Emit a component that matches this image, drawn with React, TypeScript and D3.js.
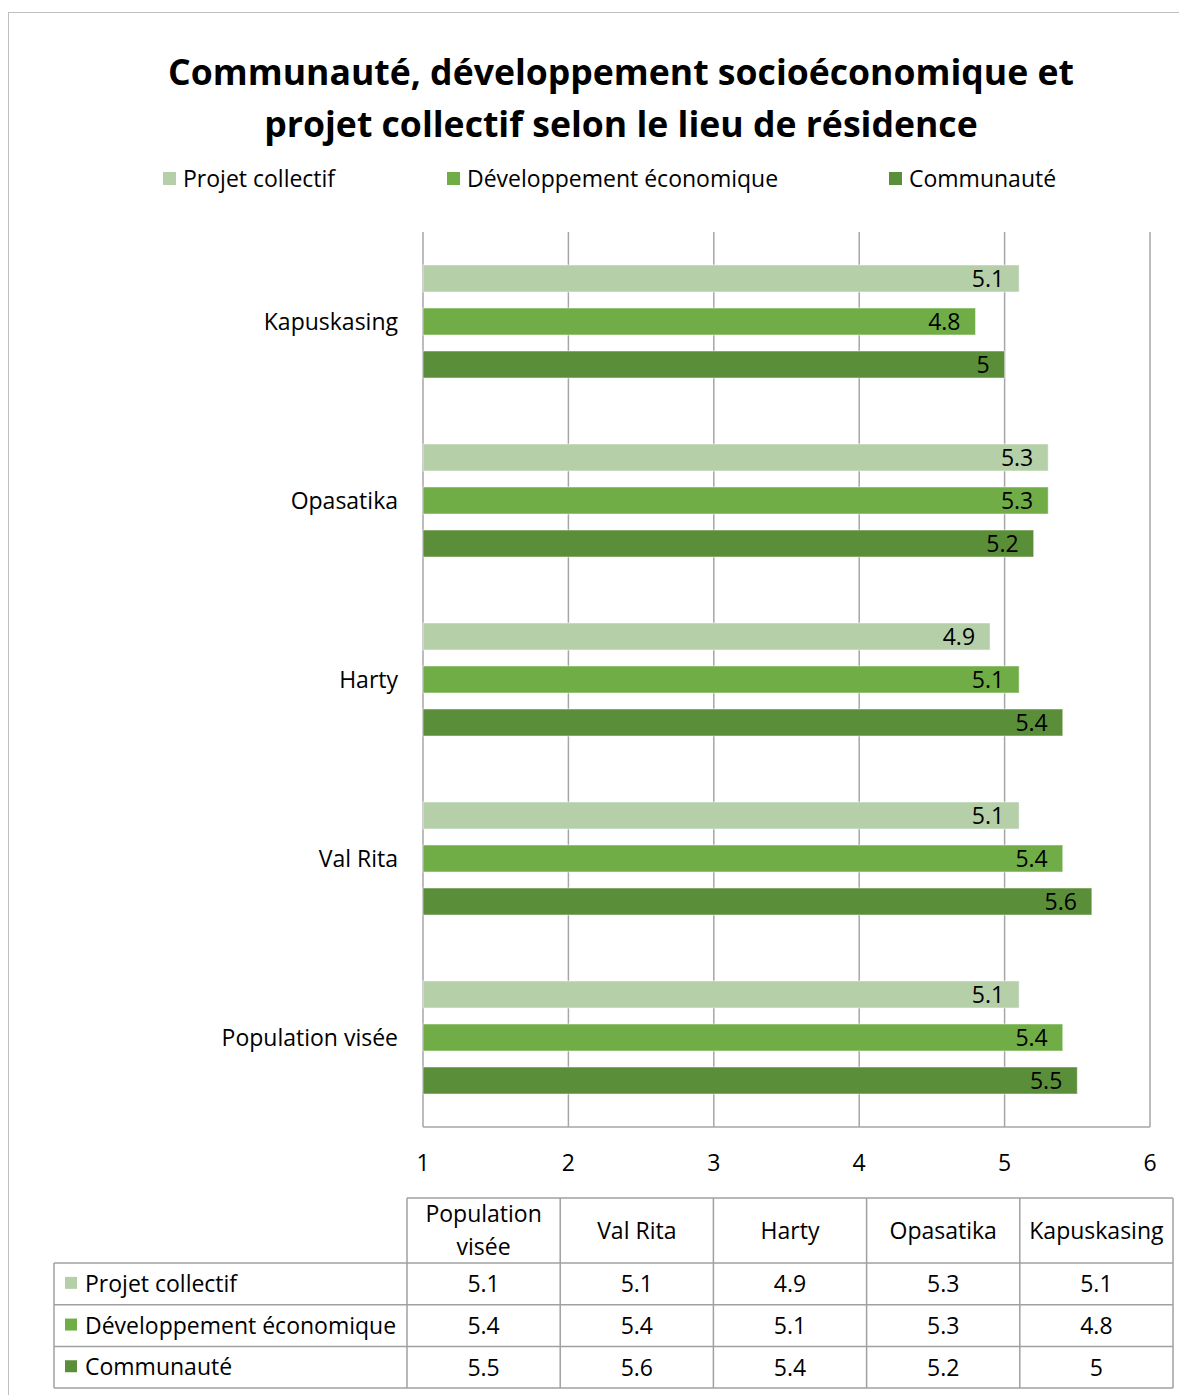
import React from "react";
import * as d3 from "d3";

const categories = ["Population visée", "Val Rita", "Harty", "Opasatika", "Kapuskasing"];
const seriesNames = ["Projet collectif", "Développement économique", "Communauté"];
const projetCollectif = [5.1, 5.1, 4.9, 5.3, 5.1];
const developpementEconomique = [5.4, 5.4, 5.1, 5.3, 4.8];
const communaute = [5.5, 5.6, 5.4, 5.2, 5];
const xTicks = [1, 2, 3, 4, 5, 6];
const colors = ["#b5cfa8", "#70ad47", "#5b8e39"];
const titleLines = ["Communauté, développement socioéconomique et", "projet collectif selon le lieu de résidence"];

const FONT = "'Open Sans', Lato, sans-serif";
const FS = 23;

export default function App() {
  const seriesValues = [projetCollectif, developpementEconomique, communaute];
  const plotLeft = 423, plotRight = 1150, plotTop = 232, plotBottom = 1127;
  const x = d3.scaleLinear().domain([1, 6]).range([plotLeft, plotRight]);
  const displayCats = [...categories].reverse();
  const y = d3.scaleBand().domain(displayCats).range([plotTop, plotBottom]).paddingInner(0).paddingOuter(0);
  const inner = d3.scaleBand().domain(seriesNames).range([0, y.bandwidth()]).paddingInner(0.372).paddingOuter(0.767);

  const tableLeft = 407, tableRight = 1173;
  const colW = (tableRight - tableLeft) / categories.length;
  const headerTop = 1198, headerBottom = 1263;
  const rowH = 41.7;
  const rowLabelLeft = 54;
  const grid = "#a6a6a6";
  const tableLine = "#a0a0a0";

  return (
    <svg width={1179} height={1395} style={{ position: "absolute", left: 0, top: 0, background: "#fff" }}
      fontFamily={FONT}>
      <rect x={0} y={0} width={1179} height={1395} fill="#fff" />
      <rect x={8.5} y={12.5} width={1200} height={1500} fill="none" stroke="#bfbfbf" strokeWidth={1} />
      {titleLines.map((t, i) => (
        <text key={i} x={621} y={85 + i * 52} textAnchor="middle" fontSize={35.6} fontWeight={700} fill="#000">{t}</text>
      ))}
      {seriesNames.map((s, i) => {
        const lx = [163, 447, 889][i];
        return (
          <g key={s}>
            <rect x={lx} y={172} width={13} height={13} fill={colors[i]} />
            <text x={lx + 20} y={187} fontSize={FS} fill="#000">{s}</text>
          </g>
        );
      })}
      {xTicks.map((t) => (
        <line key={t} x1={x(t)} x2={x(t)} y1={plotTop} y2={plotBottom} stroke={grid} strokeWidth={1.5} />
      ))}
      <line x1={plotLeft} x2={plotRight} y1={plotBottom} y2={plotBottom} stroke={grid} strokeWidth={1.5} />
      {displayCats.map((c) => {
        const ci = categories.indexOf(c);
        return (
          <g key={c}>
            {seriesNames.map((s, si) => {
              const v = seriesValues[si][ci];
              const by = (y(c) as number) + (inner(s) as number);
              const bh = inner.bandwidth();
              return (
                <g key={s}>
                  <rect x={x(1)} y={by} width={x(v) - x(1)} height={bh} fill={colors[si]} stroke="#ffffff" strokeOpacity={0.5} strokeWidth={1} />
                  <text x={x(v) - 15} y={by + bh / 2 + 8.5} textAnchor="end" fontSize={FS} fill="#000">{String(v)}</text>
                </g>
              );
            })}
            <text x={398} y={(y(c) as number) + y.bandwidth() / 2 + 8} textAnchor="end" fontSize={FS} fill="#000">{c}</text>
          </g>
        );
      })}
      {xTicks.map((t) => (
        <text key={t} x={x(t)} y={1171} textAnchor="middle" fontSize={FS} fill="#000">{t}</text>
      ))}
      <g>
        {categories.map((c, i) => {
          const cx = tableLeft + colW * (i + 0.5);
          const words = c === "Population visée" ? ["Population", "visée"] : [c];
          return (
            <g key={c}>
              {words.length === 2 ? (
                <>
                  <text x={cx} y={1222} textAnchor="middle" fontSize={FS}>{words[0]}</text>
                  <text x={cx} y={1255} textAnchor="middle" fontSize={FS}>{words[1]}</text>
                </>
              ) : (
                <text x={cx} y={1239} textAnchor="middle" fontSize={FS}>{c}</text>
              )}
            </g>
          );
        })}
        {seriesNames.map((s, si) => {
          const ry = headerBottom + si * rowH;
          return (
            <g key={s}>
              <rect x={65} y={ry + rowH / 2 - 7} width={12} height={12} fill={colors[si]} />
              <text x={85} y={ry + rowH / 2 + 8} fontSize={FS}>{s}</text>
              {categories.map((c, ci) => (
                <text key={c} x={tableLeft + colW * (ci + 0.5)} y={ry + rowH / 2 + 8.5} textAnchor="middle" fontSize={FS}>{String(seriesValues[si][ci])}</text>
              ))}
            </g>
          );
        })}
        <line x1={tableLeft} x2={tableRight} y1={headerTop} y2={headerTop} stroke={tableLine} strokeWidth={1.5} />
        {[0, 1, 2, 3].map((k) => (
          <line key={k} x1={rowLabelLeft} x2={tableRight} y1={headerBottom + k * rowH} y2={headerBottom + k * rowH} stroke={tableLine} strokeWidth={1.5} />
        ))}
        <line x1={rowLabelLeft} x2={rowLabelLeft} y1={headerBottom} y2={headerBottom + 3 * rowH} stroke={tableLine} strokeWidth={1.5} />
        {d3.range(categories.length + 1).map((k) => (
          <line key={k} x1={tableLeft + k * colW} x2={tableLeft + k * colW} y1={headerTop} y2={headerBottom + 3 * rowH} stroke={tableLine} strokeWidth={1.5} />
        ))}
      </g>
    </svg>
  );
}
